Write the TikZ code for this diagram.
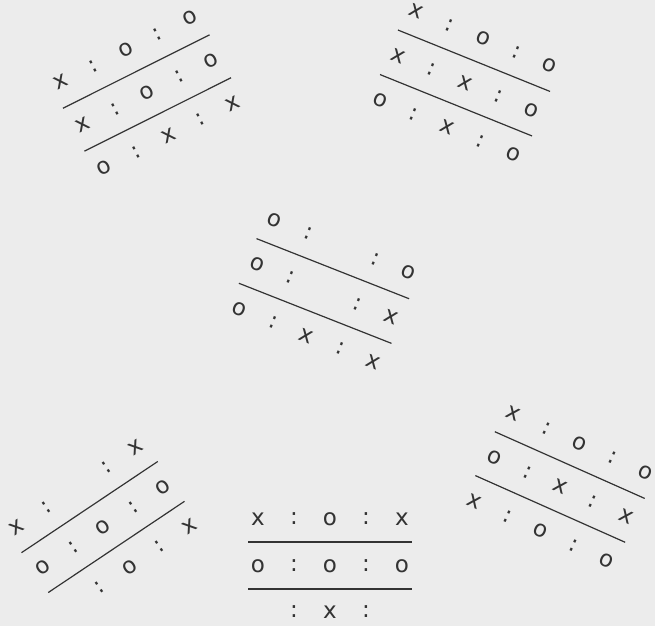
\documentclass[tikz,border=0pt]{standalone}
\usepackage{fontspec}
\setmainfont{DejaVu Sans}
\definecolor{ink}{HTML}{333333}
\definecolor{paper}{HTML}{ECECEC}
\tikzset{
  sym/.style={inner sep=0pt, text=ink, font=\fontsize{23}{26}\selectfont, transform shape},
  rule/.style={draw=ink, line width=1.2pt}
}
\begin{document}
\begin{tikzpicture}[x=1pt, y=-1pt]
\useasboundingbox (0,0) rectangle (655,626);
\fill[paper] (0,0) rectangle (655,626);
% top left board
\begin{scope}[shift={(147,93)}, rotate=26.6]
\foreach \c/\s in {1/x,2/:,3/o,4/:,5/o} \node[sym] (tl-1-\c) at (\c*36-108,-48) {\s};
\foreach \c/\s in {1/x,2/:,3/o,4/:,5/o} \node[sym] (tl-2-\c) at (\c*36-108,0) {\s};
\foreach \c/\s in {1/o,2/:,3/x,4/:,5/x} \node[sym] (tl-3-\c) at (\c*36-108,48) {\s};
\draw[rule] (-82,-24) -- (82,-24);
\draw[rule] (-82,24) -- (82,24);
\end{scope}
% top right board
\begin{scope}[shift={(465,83)}, rotate=-22]
\foreach \c/\s in {1/x,2/:,3/o,4/:,5/o} \node[sym] (tr-1-\c) at (\c*36-108,-48) {\s};
\foreach \c/\s in {1/x,2/:,3/x,4/:,5/o} \node[sym] (tr-2-\c) at (\c*36-108,0) {\s};
\foreach \c/\s in {1/o,2/:,3/x,4/:,5/o} \node[sym] (tr-3-\c) at (\c*36-108,48) {\s};
\draw[rule] (-82,-24) -- (82,-24);
\draw[rule] (-82,24) -- (82,24);
\end{scope}
% middle board
\begin{scope}[shift={(324,291)}, rotate=-21.5]
\foreach \c/\s in {1/o,2/:,4/:,5/o} \node[sym] (md-1-\c) at (\c*36-108,-48) {\s};
\foreach \c/\s in {1/o,2/:,4/:,5/x} \node[sym] (md-2-\c) at (\c*36-108,0) {\s};
\foreach \c/\s in {1/o,2/:,3/x,4/:,5/x} \node[sym] (md-3-\c) at (\c*36-108,48) {\s};
\draw[rule] (-82,-24) -- (82,-24);
\draw[rule] (-82,24) -- (82,24);
\end{scope}
% bottom right board
\begin{scope}[shift={(560,487)}, rotate=-24]
\foreach \c/\s in {1/x,2/:,3/o,4/:,5/o} \node[sym] (br-1-\c) at (\c*36-108,-48) {\s};
\foreach \c/\s in {1/o,2/:,3/x,4/:,5/x} \node[sym] (br-2-\c) at (\c*36-108,0) {\s};
\foreach \c/\s in {1/x,2/:,3/o,4/:,5/o} \node[sym] (br-3-\c) at (\c*36-108,48) {\s};
\draw[rule] (-82,-24) -- (82,-24);
\draw[rule] (-82,24) -- (82,24);
\end{scope}
% bottom left board
\begin{scope}[shift={(103,527)}, rotate=33.8]
\foreach \c/\s in {1/x,2/:,4/:,5/x} \node[sym] (bl-1-\c) at (\c*36-108,-48) {\s};
\foreach \c/\s in {1/o,2/:,3/o,4/:,5/o} \node[sym] (bl-2-\c) at (\c*36-108,0) {\s};
\foreach \c/\s in {2/:,3/o,4/:,5/x} \node[sym] (bl-3-\c) at (\c*36-108,48) {\s};
\draw[rule] (-82,-24) -- (82,-24);
\draw[rule] (-82,24) -- (82,24);
\end{scope}
% bottom board
\begin{scope}[shift={(330,566)}]
\foreach \c/\s in {1/x,2/:,3/o,4/:,5/x} \node[sym] (bt-1-\c) at (\c*36-108,-47) {\s};
\foreach \c/\s in {1/o,2/:,3/o,4/:,5/o} \node[sym] (bt-2-\c) at (\c*36-108,0) {\s};
\foreach \c/\s in {2/:,3/x,4/:} \node[sym] (bt-3-\c) at (\c*36-108,46) {\s};
\draw[rule] (-82,-24) -- (82,-24);
\draw[rule] (-82,23) -- (82,23);
\end{scope}
\end{tikzpicture}
\end{document}
